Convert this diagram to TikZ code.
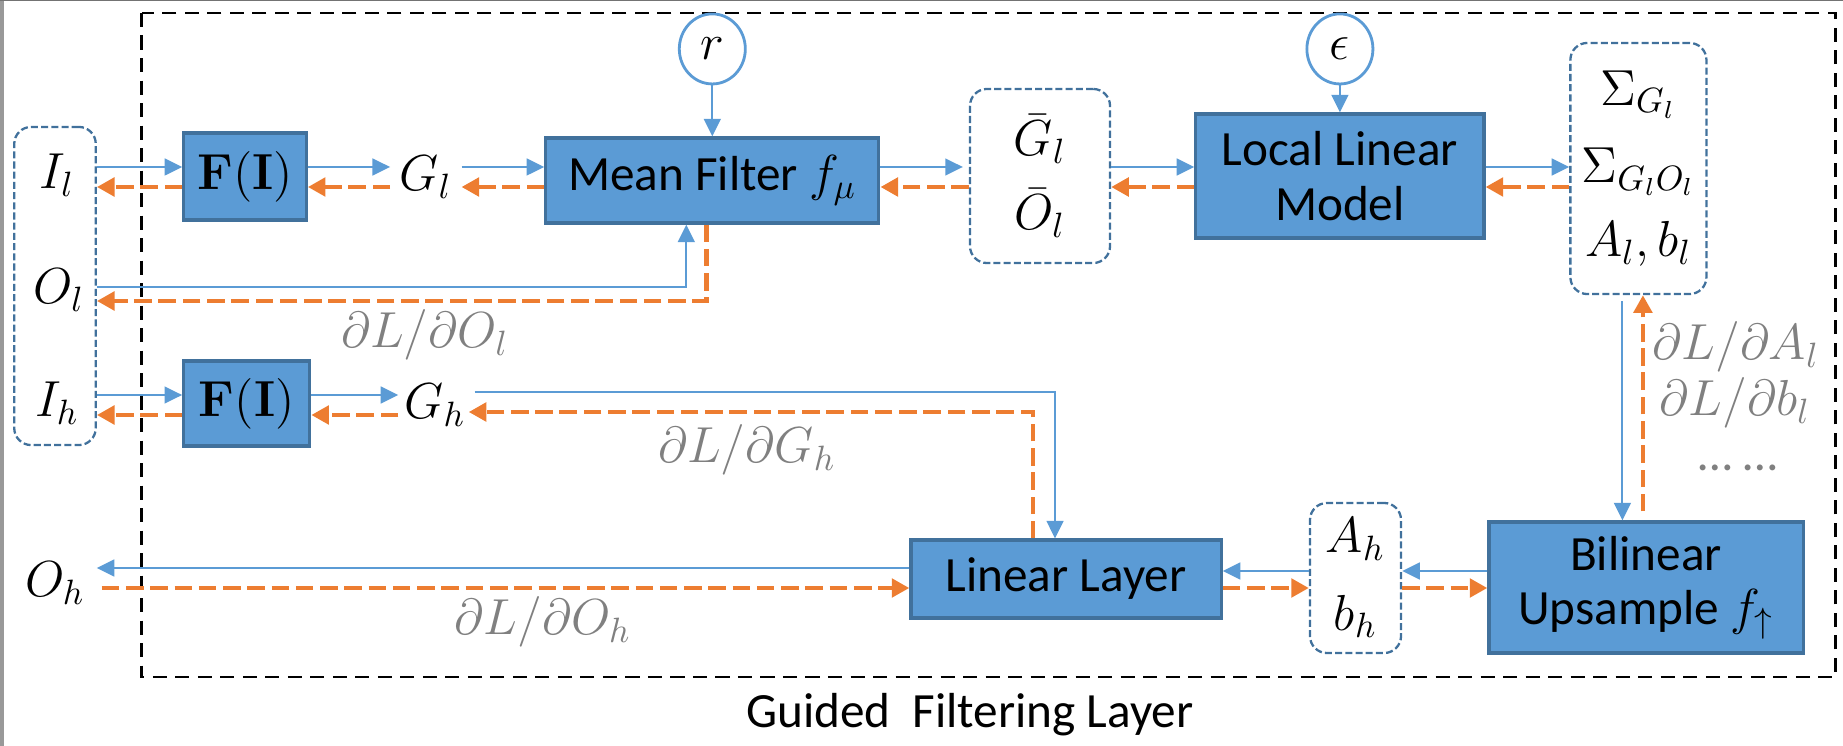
\documentclass[tikz,border=0pt]{standalone}
\usepackage[no-math]{fontspec}
\setmainfont{Carlito}
\usetikzlibrary{arrows.meta,calc,positioning,shapes.geometric}

\definecolor{boxblue}{RGB}{91,155,213}
\definecolor{boxline}{RGB}{65,113,156}
\definecolor{gradorange}{RGB}{237,125,49}
\definecolor{labelgray}{RGB}{128,128,128}

\tikzset{
  block/.style={draw=boxline,fill=boxblue,line width=0.9pt,align=center,inner sep=0pt,
    font=\fontsize{14}{15.5}\selectfont},
  group/.style={draw=boxline,line width=0.65pt,dash pattern=on 2pt off 0.9pt,
    rounded corners=1.7mm,align=center,inner sep=0pt},
  param/.style={draw=boxblue,fill=white,ellipse,line width=0.8pt,inner sep=0pt,
    minimum width=0.66cm,minimum height=0.70cm},
  var/.style={inner sep=0pt},
  grad/.style={text=labelgray,inner sep=0pt},
  fwd/.style={draw=boxblue,line width=0.6pt,-{Triangle[length=5pt,width=4.8pt]}},
  bwd/.style={draw=gradorange,line width=1.3pt,dash pattern=on 5pt off 1.9pt,
    -{Triangle[length=5pt,width=5.2pt]}},
  frame/.style={draw=black,line width=0.8pt,dash pattern=on 4pt off 2.4pt},
}

\begin{document}
\begin{tikzpicture}[x=0.01cm,y=-0.01cm,font=\fontsize{14}{16}\selectfont]
  \useasboundingbox (0,0) rectangle (1843,746);
  % edge of the screenshot
  \fill[black!40] (0,0) rectangle (3.5,746);
  \fill[black!55] (0,0) rectangle (1843,1.5);

  % guided filtering layer
  \draw[frame] (141.6,13) rectangle (1835.6,677);
  \node (title) at (970,715) {Guided\hspace{3pt} Filtering Layer};

  % inputs / outputs
  \node[group,minimum width=0.815cm,minimum height=3.18cm] (inbox) at (55,286) {};
  \node[var] (Il) at (57,175) {$I_l$};
  \node[var] (Ol) at (59,290) {$O_l$};
  \node[var] (Ih) at (57,403) {$I_h$};
  \node[var,minimum width=0.82cm] (Oh) at (55,583) {$O_h$};

  % low resolution path
  \node[block,minimum width=1.225cm,minimum height=0.87cm] (F1) at (245,176.5) {$\mathbf{F(I)}$};
  \node[var,minimum width=0.70cm] (Gl) at (425.8,177) {$G_l$};
  \node[block,minimum width=3.33cm,minimum height=0.85cm] (Mean) at (712.3,180.5) {Mean Filter $f_\mu$};
  \node[param,above=0.51cm of Mean] (r) {$r$};
  \node[group,minimum width=1.40cm,minimum height=1.74cm] (Gbar) at (1040,176) {$\bar{G}_l$\\[5pt]$\bar{O}_l$};
  \node[block,minimum width=2.88cm,minimum height=1.24cm] (LLM) at (1339.9,176) {Local Linear\\Model};
  \node[param,above=0.27cm of LLM] (eps) {$\epsilon$};
  \node[group,minimum width=1.36cm,minimum height=2.51cm] (Sig) at (1638.4,168.5)
    {$\Sigma_{G_l}$\\[6pt]$\Sigma_{G_lO_l}$\\[5pt]$A_l,b_l$};

  % high resolution path
  \node[block,minimum width=1.26cm,minimum height=0.85cm] (F2) at (246.7,403.5) {$\mathbf{F(I)}$};
  \node[var,minimum width=0.72cm] (Gh) at (435,405) {$G_h$};
  \node[block,minimum width=3.10cm,minimum height=0.78cm] (Linear) at (1066,579) {Linear Layer};
  \node[group,minimum width=0.91cm,minimum height=1.50cm] (Ahbh) at (1355.5,578) {$A_h$\\[6pt]$b_h$};
  \node[block,minimum width=3.14cm,minimum height=1.31cm] (Bil) at (1646,587.5) {Bilinear\\Upsample $f_\uparrow$};

  % gradient labels
  \node[grad] (dOl) at (425,335) {$\partial L/\partial O_l$};
  \node[grad] (dGh) at (747,450) {$\partial L/\partial G_h$};
  \node[grad] (dOh) at (543,622) {$\partial L/\partial O_h$};
  \node[grad] (dAl) at (1736,347) {$\partial L/\partial A_l$};
  \node[grad] (dbl) at (1735,403) {$\partial L/\partial b_l$};
  \node[grad] (dots) at (1738,468) {\textellipsis\ \textellipsis};

  % first row
  \draw[fwd] ($(Gl -| inbox.east)+(0,-10)$) -- ($(Gl -| F1.west)+(0,-10)$);
  \draw[bwd] ($(Gl -| F1.west)+(0,10)$) -- ($(Gl -| inbox.east)+(0,10)$);
  \draw[fwd] ($(Gl -| F1.east)+(0,-10)$) -- ($(Gl.west)+(0,-10)$);
  \draw[bwd] ($(Gl.west)+(0,10)$) -- ($(Gl -| F1.east)+(0,10)$);
  \draw[fwd] ($(Gl.east)+(0,-10)$) -- ($(Gl -| Mean.west)+(0,-10)$);
  \draw[bwd] ($(Gl -| Mean.west)+(0,10)$) -- ($(Gl.east)+(0,10)$);
  \draw[fwd] ($(Gl -| Mean.east)+(0,-10)$) -- ($(Gl -| Gbar.west)+(-6,-10)$);
  \draw[bwd] ($(Gl -| Gbar.west)+(0,10)$) -- ($(Gl -| Mean.east)+(0,10)$);
  \draw[fwd] ($(Gl -| Gbar.east)+(0,-10)$) -- ($(Gl -| LLM.west)+(0,-10)$);
  \draw[bwd] ($(Gl -| LLM.west)+(0,10)$) -- ($(Gl -| Gbar.east)+(0,10)$);
  \draw[fwd] ($(Gl -| LLM.east)+(0,-10)$) -- ($(Gl -| Sig.west)+(0,-10)$);
  \draw[bwd] ($(Gl -| Sig.west)+(0,10)$) -- ($(Gl -| LLM.east)+(0,10)$);
  \draw[fwd] (r) -- (r |- Mean.north);
  \draw[fwd] (eps) -- (eps |- LLM.north);
  \draw[fwd] ($(Ol -| inbox.east)+(0,-3)$) -| ($(Mean.south)+(-26,0)$);
  \draw[bwd] ($(Mean.south)+(-6,0)$) |- ($(Ol -| inbox.east)+(0,11)$);

  % down to the upsampler
  \coordinate (sigL) at ($(Sig.south)+(-16,0)$);
  \coordinate (sigR) at ($(Sig.south)+(4.5,0)$);
  \draw[fwd] ($(sigL)+(0,6)$) -- (sigL |- Bil.north);
  \draw[bwd] ($(sigR |- Bil.north)+(0,-9)$) -- (sigR);

  % second row
  \draw[fwd] ($(Gh -| inbox.east)+(0,-10)$) -- ($(Gh -| F2.west)+(0,-10)$);
  \draw[bwd] ($(Gh -| F2.west)+(0,10)$) -- ($(Gh -| inbox.east)+(0,10)$);
  \draw[fwd] ($(Gh -| F2.east)+(0,-10)$) -- ($(Gh.west)+(0,-10)$);
  \draw[bwd] ($(Gh.west)+(0,10)$) -- ($(Gh -| F2.east)+(0,10)$);
  \draw[fwd] ($(Gh.east)+(3,-13)$) -| ($(Linear.north)+(-11,0)$);
  \draw[bwd] ($(Linear.north)+(-33,0)$) |- ($(Gh.east)+(-3,7)$);

  % bottom row
  \draw[fwd] ($(Ahbh -| Bil.west)+(0,-7)$) -- ($(Ahbh.east)+(0,-7)$);
  \draw[bwd] ($(Ahbh.east)+(0,10)$) -- ($(Ahbh -| Bil.west)+(0,10)$);
  \draw[fwd] ($(Ahbh.west)+(0,-7)$) -- ($(Ahbh -| Linear.east)+(0,-7)$);
  \draw[bwd] ($(Ahbh -| Linear.east)+(0,10)$) -- ($(Ahbh.west)+(0,10)$);
  \draw[fwd] ($(Linear.west)+(0,-11)$) -- ($(Linear.west -| Oh.east)+(0,-11)$);
  \draw[bwd] ($(Linear.west -| Oh.east)+(5,9)$) -- ($(Linear.west)+(0,9)$);
\end{tikzpicture}
\end{document}
